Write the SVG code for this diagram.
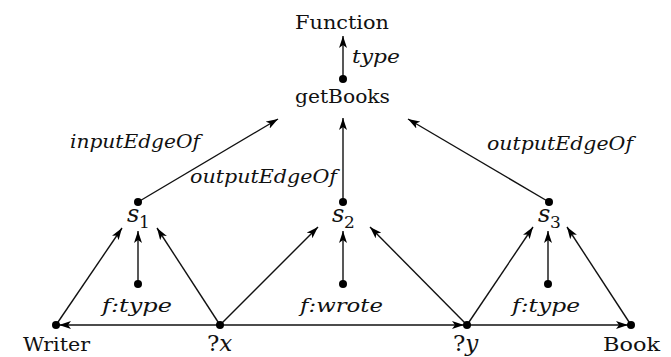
<svg xmlns="http://www.w3.org/2000/svg" width="671" height="357" viewBox="0 0 671 357">
<style>
.e{stroke:#111;stroke-width:1.4;fill:none;marker-end:url(#ah)}
.dot{fill:#000}
.t{font-family:"DejaVu Serif",serif;font-size:19px;fill:#111}
.i{font-style:italic}
.s{font-size:24px}
.sub{font-size:17px}
</style>
<defs>
<marker id="ah" viewBox="0 0 12 8" refX="12" refY="4" markerWidth="12" markerHeight="8" markerUnits="userSpaceOnUse" orient="auto">
<path d="M0,0 L12,4 L0,8 L3,4 z" fill="#000"/>
</marker>
</defs>
<rect width="671" height="357" fill="#fff"/>
<g id="connectors">
<line class="e" x1="343" y1="79" x2="343" y2="36"/>
<line class="e" x1="138" y1="202" x2="278" y2="119"/>
<line class="e" x1="343" y1="202" x2="343" y2="118"/>
<line class="e" x1="549" y1="202" x2="408" y2="119"/>
<line class="e" x1="56" y1="325" x2="122" y2="228"/>
<line class="e" x1="138" y1="284" x2="138" y2="231"/>
<line class="e" x1="220" y1="325" x2="157" y2="228"/>
<line class="e" x1="220" y1="325" x2="318" y2="227"/>
<line class="e" x1="343" y1="284" x2="343" y2="231"/>
<line class="e" x1="467" y1="325" x2="370" y2="227"/>
<line class="e" x1="467" y1="325" x2="533" y2="227"/>
<line class="e" x1="548" y1="284" x2="548" y2="231"/>
<line class="e" x1="631" y1="325" x2="567" y2="227"/>
<line class="e" x1="220" y1="325" x2="59" y2="325"/>
<line class="e" x1="220" y1="325" x2="464" y2="325"/>
<line class="e" x1="467" y1="325" x2="628" y2="325"/>
<g id="edge-labels">
<text class="t i" x="352" y="63" textLength="48" lengthAdjust="spacingAndGlyphs">type</text>
<text class="t i" x="70" y="148" textLength="130" lengthAdjust="spacingAndGlyphs">inputEdgeOf</text>
<text class="t i" x="190" y="183" textLength="147" lengthAdjust="spacingAndGlyphs">outputEdgeOf</text>
<text class="t i" x="487" y="150" textLength="146" lengthAdjust="spacingAndGlyphs">outputEdgeOf</text>
</g>
</g>
<g id="Function"><text class="t" x="295" y="29" textLength="94" lengthAdjust="spacingAndGlyphs">Function</text></g>
<g id="getBooks"><circle class="dot" cx="343" cy="79" r="4"/><text class="t" x="295" y="103" textLength="95" lengthAdjust="spacingAndGlyphs">getBooks</text></g>
<g id="s1"><circle class="dot" cx="138" cy="202" r="4"/><text class="t i s" x="127" y="222">s</text><text class="t sub" x="139" y="228">1</text></g>
<g id="s2"><circle class="dot" cx="343" cy="202" r="4"/><text class="t i s" x="332" y="222">s</text><text class="t sub" x="344" y="228">2</text></g>
<g id="s3"><circle class="dot" cx="549" cy="202" r="4"/><text class="t i s" x="538" y="222">s</text><text class="t sub" x="550" y="228">3</text></g>
<g id="ftype1"><circle class="dot" cx="138" cy="284" r="4"/><text class="t i" x="102" y="312" textLength="70" lengthAdjust="spacingAndGlyphs">f:type</text></g>
<g id="fwrote"><circle class="dot" cx="343" cy="284" r="4"/><text class="t i" x="300" y="312" textLength="83" lengthAdjust="spacingAndGlyphs">f:wrote</text></g>
<g id="ftype2"><circle class="dot" cx="548" cy="284" r="4"/><text class="t i" x="512" y="312" textLength="68" lengthAdjust="spacingAndGlyphs">f:type</text></g>
<g id="Writer"><circle class="dot" cx="56" cy="325" r="4"/><text class="t" x="23" y="351" textLength="67" lengthAdjust="spacingAndGlyphs">Writer</text></g>
<g id="x"><circle class="dot" cx="220" cy="325" r="4"/><text class="t" x="207" y="351" style="font-size:23px">?<tspan class="i">x</tspan></text></g>
<g id="y"><circle class="dot" cx="467" cy="325" r="4"/><text class="t" x="453" y="351" style="font-size:23px">?<tspan class="i">y</tspan></text></g>
<g id="Book"><circle class="dot" cx="631" cy="325" r="4"/><text class="t" x="603" y="351" textLength="57" lengthAdjust="spacingAndGlyphs">Book</text></g>
</svg>
